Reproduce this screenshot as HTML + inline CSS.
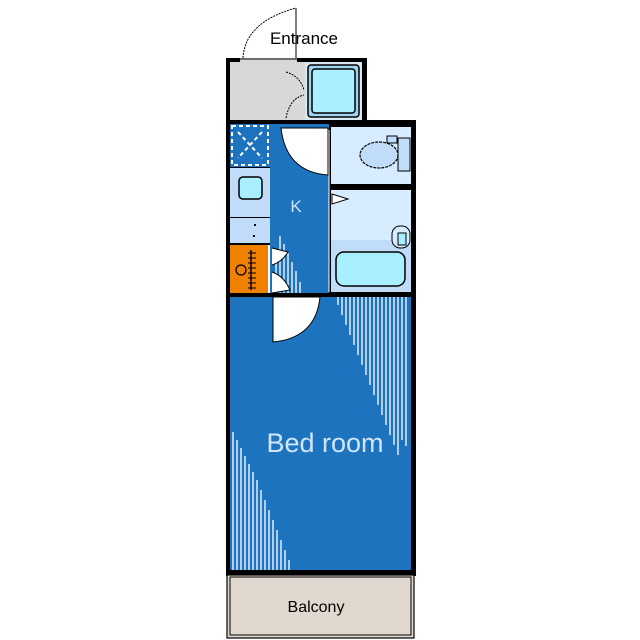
<!DOCTYPE html>
<html><head><meta charset="utf-8"><style>
html,body{margin:0;padding:0;background:#fff;}
svg{display:block;}
text{font-family:"Liberation Sans",sans-serif;}
</style></head><body>
<svg width="640" height="640" viewBox="0 0 640 640" xmlns="http://www.w3.org/2000/svg">
<rect width="640" height="640" fill="#fff"/>
<!-- entrance door arc -->
<path d="M243 58 Q245 22 296 8" fill="none" stroke="#000" stroke-width="1" stroke-dasharray="2,1"/>
<line x1="296" y1="8" x2="296" y2="58" stroke="#000" stroke-width="1"/>
<text x="304" y="44" font-size="17" text-anchor="middle" fill="#000">Entrance</text>
<!-- entrance block -->
<rect x="226" y="58" width="141" height="66" fill="#000"/>
<rect x="230" y="62" width="75" height="58" fill="#d8d8d8"/>
<rect x="240" y="58" width="57" height="4" fill="#d8d8d8"/>
<line x1="240" y1="59" x2="297" y2="59" stroke="#000" stroke-width="1"/>
<rect x="305" y="62" width="57" height="58" fill="#d8e8f0"/>
<rect x="308" y="65" width="51" height="52" fill="#9fd4f0" stroke="#000" stroke-width="1.5" rx="3"/>
<rect x="312" y="69" width="43" height="44" fill="#a8f0ff" stroke="#000" stroke-width="1.5" rx="3"/>
<path d="M286 72 Q300 76 304 90 M286 118 Q290 98 304 95" fill="none" stroke="#000" stroke-width="1" stroke-dasharray="2,1"/>
<!-- main lower block -->
<rect x="226" y="120" width="190" height="456" fill="#000"/>
<!-- left column -->
<rect x="230" y="124" width="40" height="43" fill="#1e73be"/>
<rect x="232" y="126" width="36" height="39" fill="none" stroke="#fff" stroke-width="2" stroke-dasharray="4,3"/>
<path d="M238 132 L262 158 M262 132 L238 158" stroke="#fff" stroke-width="2" stroke-dasharray="4,3"/>
<rect x="230" y="168" width="40" height="49" fill="#c0dcf8"/>
<rect x="239" y="177" width="23" height="22" rx="4" fill="#a8f0ff" stroke="#000" stroke-width="1.5"/>
<rect x="230" y="218" width="40" height="25" fill="#c0dcf8"/>
<rect x="254" y="224" width="2" height="2" fill="#000"/><rect x="253" y="235" width="2" height="2" fill="#000"/>
<rect x="230" y="245" width="38" height="48" fill="#f08000"/>
<line x1="251" y1="250" x2="251" y2="290" stroke="#000" stroke-width="1.5"/>
<path d="M248 253h8M248 258h8M248 263h8M248 268h8M248 273h8M248 278h8M248 283h8M248 288h8" stroke="#000" stroke-width="1"/>
<circle cx="241" cy="270" r="5" fill="none" stroke="#000" stroke-width="1.3"/>
<rect x="268" y="245" width="6" height="48" fill="#fff"/>
<!-- kitchen corridor -->
<rect x="270" y="124" width="59" height="169" fill="#1e73be"/>
<path d="M281 128 L328 128 L328 175 Q286 172 281 128 Z" fill="#fff" stroke="#000" stroke-width="1"/>
<text x="296" y="212" font-size="17" fill="#cfe6ff" text-anchor="middle">K</text>
<g stroke="#fff" stroke-width="1.3">
<line x1="276" y1="260" x2="276" y2="293"/><line x1="280" y1="236" x2="280" y2="293"/><line x1="284" y1="244" x2="284" y2="293"/><line x1="288" y1="253" x2="288" y2="293"/><line x1="292" y1="262" x2="292" y2="293"/><line x1="296" y1="271" x2="296" y2="293"/><line x1="300" y1="282" x2="300" y2="293"/>
</g>
<path d="M272 248 L288 252 Q282 262 272 265 M272 293 L290 290 Q284 276 272 272" fill="#fff" stroke="#000" stroke-width="1"/>
<!-- bathrooms -->
<rect x="331" y="127" width="80" height="57" fill="#d8ecff"/>
<rect x="398" y="138" width="12" height="33" fill="#c0dcf8" stroke="#000" stroke-width="1"/>
<rect x="387" y="136" width="10" height="7" fill="#c0dcf8" stroke="#000" stroke-width="1"/>
<ellipse cx="379" cy="155" rx="19" ry="13" fill="#c0dcf8" stroke="#000" stroke-width="1.2" stroke-dasharray="3,1"/>
<rect x="331" y="190" width="80" height="50" fill="#d8ecff"/>
<rect x="331" y="240" width="80" height="52" fill="#c0dcf8"/>
<path d="M332 194 L348 199 L332 204 Z" fill="#fff" stroke="#000" stroke-width="1"/>
<rect x="392" y="226" width="18" height="22" rx="8" fill="#d8ecff" stroke="#000" stroke-width="1"/>
<rect x="398" y="233" width="8" height="12" fill="#a8f0ff" stroke="#000" stroke-width="1"/>
<rect x="336" y="252" width="69" height="34" rx="8" fill="#a8f0ff" stroke="#000" stroke-width="1.5"/>
<line x1="329" y1="130" x2="329" y2="292" stroke="#fff" stroke-width="1"/>
<!-- bedroom -->
<rect x="230" y="297" width="181" height="273" fill="#1e73be"/>
<g stroke="#fff" stroke-width="1.3">
<line x1="338" y1="297" x2="338" y2="305"/><line x1="342" y1="297" x2="342" y2="315"/><line x1="346" y1="297" x2="346" y2="325"/><line x1="350" y1="297" x2="350" y2="335"/><line x1="354" y1="297" x2="354" y2="345"/><line x1="358" y1="297" x2="358" y2="355"/><line x1="362" y1="297" x2="362" y2="365"/><line x1="366" y1="297" x2="366" y2="375"/><line x1="370" y1="297" x2="370" y2="385"/><line x1="374" y1="297" x2="374" y2="395"/><line x1="378" y1="297" x2="378" y2="405"/><line x1="382" y1="297" x2="382" y2="415"/><line x1="386" y1="297" x2="386" y2="425"/><line x1="390" y1="297" x2="390" y2="435"/><line x1="394" y1="297" x2="394" y2="445"/><line x1="398" y1="297" x2="398" y2="455"/><line x1="402" y1="297" x2="402" y2="440"/><line x1="406" y1="297" x2="406" y2="446"/>
<line x1="233" y1="432" x2="233" y2="570"/><line x1="237" y1="440" x2="237" y2="570"/><line x1="241" y1="448" x2="241" y2="570"/><line x1="245" y1="456" x2="245" y2="570"/><line x1="249" y1="464" x2="249" y2="570"/><line x1="253" y1="472" x2="253" y2="570"/><line x1="257" y1="480" x2="257" y2="570"/><line x1="261" y1="490" x2="261" y2="570"/><line x1="265" y1="500" x2="265" y2="570"/><line x1="269" y1="510" x2="269" y2="570"/><line x1="273" y1="520" x2="273" y2="570"/><line x1="277" y1="530" x2="277" y2="570"/><line x1="281" y1="540" x2="281" y2="570"/><line x1="285" y1="550" x2="285" y2="570"/><line x1="289" y1="560" x2="289" y2="570"/>
</g>
<path d="M273 297 L320 297 Q316 338 273 342 Z" fill="#fff" stroke="#000" stroke-width="1"/>
<text x="325" y="452" font-size="27" fill="#cfe6ff" text-anchor="middle">Bed room</text>
<!-- balcony -->
<rect x="227" y="575" width="187" height="63" fill="#e0d8cf" stroke="#000" stroke-width="1.2"/>
<rect x="230" y="577" width="181" height="58" fill="none" stroke="#000" stroke-width="1"/>
<text x="316" y="612" font-size="16" fill="#000" text-anchor="middle">Balcony</text>
</svg>
</body></html>
